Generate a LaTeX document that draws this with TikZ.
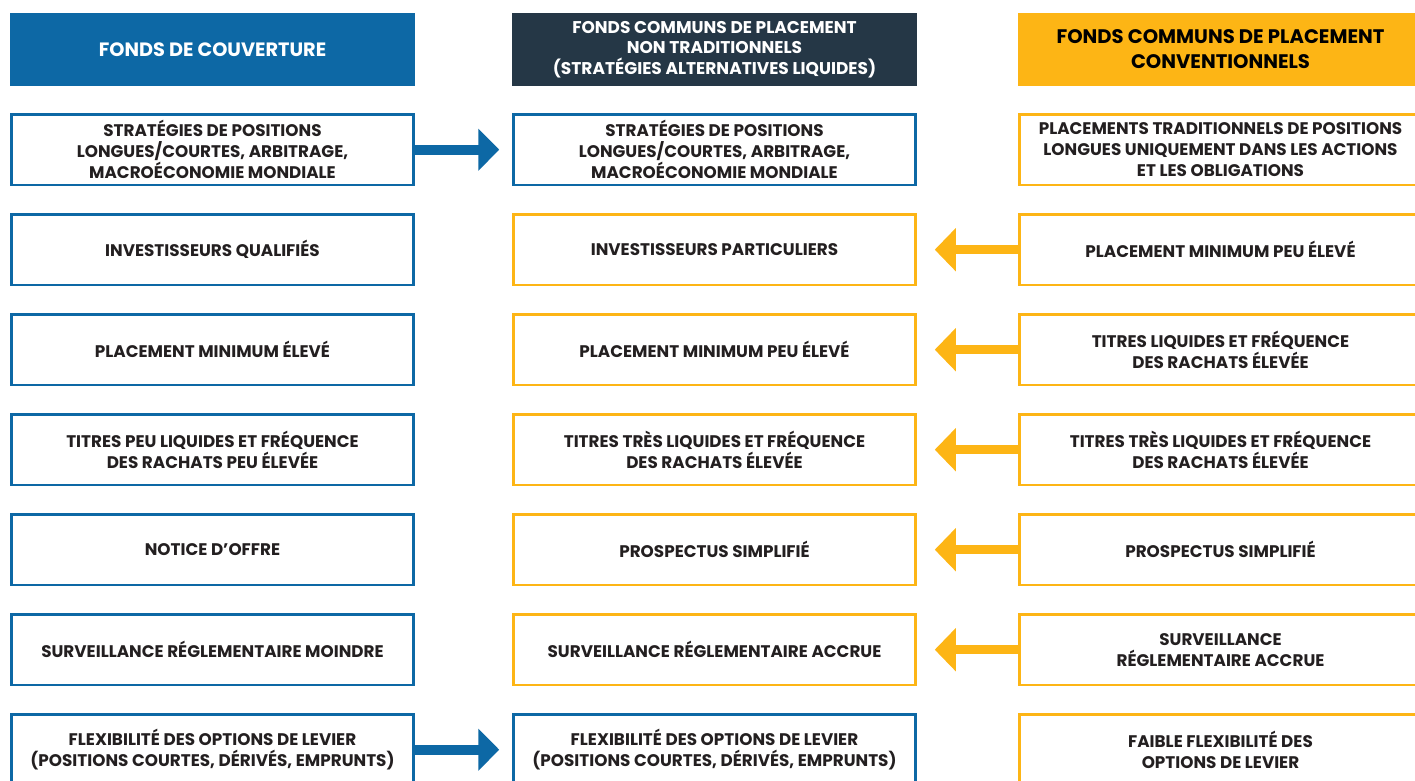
\documentclass[tikz,border=0pt]{standalone}
\usepackage{fontspec}
\setmainfont{Poppins}
\usetikzlibrary{positioning,arrows.meta}
\definecolor{hfblue}{HTML}{0D68A5}
\definecolor{altnavy}{HTML}{253746}
\definecolor{mfgold}{HTML}{FDB515}
\definecolor{txtgray}{HTML}{231F20}

\begin{document}
\begin{tikzpicture}[x=1pt,y=-1pt,node distance=27pt,
    head/.style={minimum width=405pt,minimum height=73pt,align=center,inner sep=0pt},
    box/.style={draw,line width=2.5pt,minimum width=402pt,minimum height=70.5pt,align=center,
                text=txtgray,font=\bfseries\fontsize{16.8}{21}\selectfont},
    bluebox/.style={box,draw=hfblue},
    goldbox/.style={box,draw=mfgold},
    toalt/.style={hfblue,line width=10pt,-{Triangle[length=21pt,width=41pt]},shorten >=13pt},
    fromconv/.style={mfgold,line width=9pt,-{Triangle[length=21pt,width=42pt]},shorten >=18pt}]

  \useasboundingbox (0,0) rectangle (1415,781);

  % column headers
  \node[head,fill=hfblue,text=white,font=\bfseries\fontsize{19.3}{22}\selectfont] (h1) at (212.5,49.5)
    {FONDS DE COUVERTURE};
  \node[head,fill=altnavy,text=white,font=\bfseries\fontsize{17}{20.5}\selectfont] (h2) at (714.5,49.5)
    {FONDS COMMUNS DE PLACEMENT\\NON TRADITIONNELS\\(STRATÉGIES ALTERNATIVES LIQUIDES)};
  \node[head,fill=mfgold,text=black,font=\bfseries\fontsize{19.6}{25}\selectfont] (h3) at (1220.5,49.5)
    {FONDS COMMUNS DE PLACEMENT\\CONVENTIONNELS};

  % hedge funds
  \node[bluebox] (hf1) [below=of h1] {STRATÉGIES DE POSITIONS\\LONGUES/COURTES, ARBITRAGE,\\MACROÉCONOMIE MONDIALE};
  \node[bluebox] (hf2) [below=of hf1] {INVESTISSEURS QUALIFIÉS};
  \node[bluebox] (hf3) [below=of hf2] {PLACEMENT MINIMUM ÉLEVÉ};
  \node[bluebox] (hf4) [below=of hf3] {TITRES PEU LIQUIDES ET FRÉQUENCE\\DES RACHATS PEU ÉLEVÉE};
  \node[bluebox] (hf5) [below=of hf4] {NOTICE D’OFFRE};
  \node[bluebox] (hf6) [below=of hf5] {SURVEILLANCE RÉGLEMENTAIRE MOINDRE};
  \node[bluebox] (hf7) [below=of hf6] {FLEXIBILITÉ DES OPTIONS DE LEVIER\\(POSITIONS COURTES, DÉRIVÉS, EMPRUNTS)};

  % liquid alternatives
  \node[bluebox] (alt1) [below=of h2] {STRATÉGIES DE POSITIONS\\LONGUES/COURTES, ARBITRAGE,\\MACROÉCONOMIE MONDIALE};
  \node[goldbox] (alt2) [below=of alt1] {INVESTISSEURS PARTICULIERS};
  \node[goldbox] (alt3) [below=of alt2] {PLACEMENT MINIMUM PEU ÉLEVÉ};
  \node[goldbox] (alt4) [below=of alt3] {TITRES TRÈS LIQUIDES ET FRÉQUENCE\\DES RACHATS ÉLEVÉE};
  \node[goldbox] (alt5) [below=of alt4] {PROSPECTUS SIMPLIFIÉ};
  \node[goldbox] (alt6) [below=of alt5] {SURVEILLANCE RÉGLEMENTAIRE ACCRUE};
  \node[bluebox] (alt7) [below=of alt6] {FLEXIBILITÉ DES OPTIONS DE LEVIER\\(POSITIONS COURTES, DÉRIVÉS, EMPRUNTS)};

  % conventional mutual funds
  \node[goldbox] (mf1) [below=of h3] {PLACEMENTS TRADITIONNELS DE POSITIONS\\LONGUES UNIQUEMENT DANS LES ACTIONS\\ET LES OBLIGATIONS};
  \node[goldbox] (mf2) [below=of mf1] {PLACEMENT MINIMUM PEU ÉLEVÉ};
  \node[goldbox] (mf3) [below=of mf2] {TITRES LIQUIDES ET FRÉQUENCE\\DES RACHATS ÉLEVÉE};
  \node[goldbox] (mf4) [below=of mf3] {TITRES TRÈS LIQUIDES ET FRÉQUENCE\\DES RACHATS ÉLEVÉE};
  \node[goldbox] (mf5) [below=of mf4] {PROSPECTUS SIMPLIFIÉ};
  \node[goldbox] (mf6) [below=of mf5] {SURVEILLANCE\\RÉGLEMENTAIRE ACCRUE};
  \node[goldbox] (mf7) [below=of mf6] {FAIBLE FLEXIBILITÉ DES\\OPTIONS DE LEVIER};

  % arrows
  \draw[toalt] (hf1) -- (alt1);
  \draw[toalt] (hf7) -- (alt7);
  \foreach \r in {2,...,6}
    \draw[fromconv] (mf\r) -- (alt\r);
\end{tikzpicture}
\end{document}
